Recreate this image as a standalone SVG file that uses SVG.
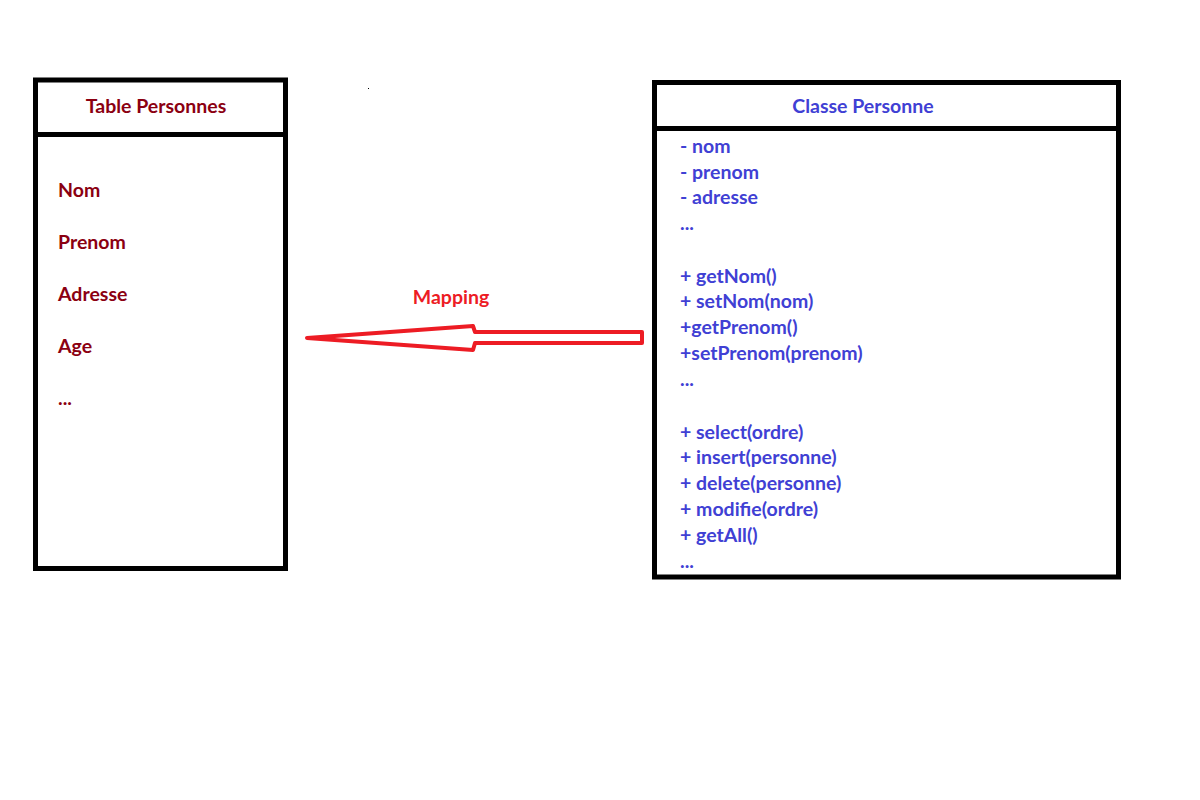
<svg xmlns="http://www.w3.org/2000/svg" width="1200" height="800" viewBox="0 0 1200 800">
<style>
.box{fill:#fff;stroke:#000;stroke-width:5}
.div{stroke:#000;stroke-width:5}
.t{font-family:Lato,"Liberation Sans",sans-serif;font-weight:bold;font-size:19.5px}
.red{fill:#8b0011}
.blue{fill:#4040d4}
.map{fill:#ed1c24}
</style>
<rect width="1200" height="800" fill="#fff"/>
<rect x="368" y="88" width="1" height="1" fill="#000"/>
<g id="table">
<rect class="box" x="35.5" y="80" width="250" height="488.5"/>
<line class="div" x1="35.5" y1="134.5" x2="285.5" y2="134.5"/>
<text class="t red" x="156" y="113" text-anchor="middle">Table Personnes</text>
<text class="t red" x="58" y="197">Nom</text>
<text class="t red" x="58" y="249">Prenom</text>
<text class="t red" x="58" y="301">Adresse</text>
<text class="t red" x="58" y="353">Age</text>
<text class="t red" x="58" y="405">...</text>
</g>
<g id="classe">
<rect class="box" x="654.5" y="82.5" width="464" height="494.5"/>
<line class="div" x1="654.5" y1="128.5" x2="1118.5" y2="128.5"/>
<text class="t blue" x="863" y="113" text-anchor="middle">Classe Personne</text>
<text class="t blue" x="680" y="153">- nom</text>
<text class="t blue" x="680" y="179">- prenom</text>
<text class="t blue" x="680" y="204">- adresse</text>
<text class="t blue" x="680" y="230">...</text>
<text class="t blue" x="680" y="283">+ getNom()</text>
<text class="t blue" x="680" y="308">+ setNom(nom)</text>
<text class="t blue" x="680" y="334">+getPrenom()</text>
<text class="t blue" x="680" y="360">+setPrenom(prenom)</text>
<text class="t blue" x="680" y="386">...</text>
<text class="t blue" x="680" y="439">+ select(ordre)</text>
<text class="t blue" x="680" y="464">+ insert(personne)</text>
<text class="t blue" x="680" y="490">+ delete(personne)</text>
<text class="t blue" x="680" y="516">+ modifie(ordre)</text>
<text class="t blue" x="680" y="542">+ getAll()</text>
<text class="t blue" x="680" y="568">...</text>
</g>
<g id="connectors">
<polygon points="307,338 473,326 475,332 642,332 642,343 475,343 473,350" fill="#fff" stroke="#ed1c24" stroke-width="4" stroke-linejoin="round"/>
<text class="t map" x="451" y="304" text-anchor="middle">Mapping</text>
</g>
</svg>
